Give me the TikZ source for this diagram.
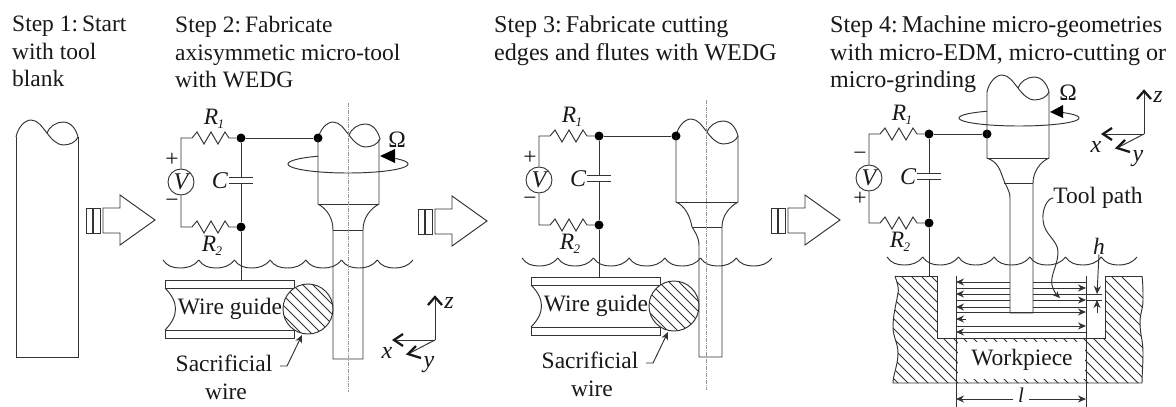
\documentclass[tikz,border=0pt]{standalone}
\usepackage{fontspec}
\setmainfont{Liberation Serif}
\usetikzlibrary{arrows.meta}
\definecolor{ink}{gray}{0.2}
\newcommand{\Rlab}[1]{{\itshape R\kern-0.5pt\raisebox{-4pt}{\fontsize{13}{13}\selectfont #1}}}
\tikzset{
  x=1pt,y=-1pt,
  every node/.style={text=black!90,font=\fontsize{23.5}{27.5}\selectfont,inner sep=0pt},
  ln/.style={draw=ink,line width=0.95pt},
  dot/.style={circle,fill=black,minimum size=9pt},
  axisline/.style={draw=gray!80,line width=0.7pt,dash pattern=on 4pt off 1pt on 1pt off 1pt},
  steptext/.style={anchor=north west,align=left},
  widetext/.style={anchor=north west,align=left,font=\fontsize{24.1}{27.5}\selectfont},
  hatchline/.style={draw=ink,line width=0.85pt},
  caret/.style={draw=black!90,line width=2.3pt,miter limit=10},
  dimtip/.style={-{Stealth[length=8pt,width=7pt]}},
  pics/head/.style={code={
    \draw[ln] (0,0) .. controls (2,-10) and (9,-17) .. (15,-17) .. controls (22,-17) and (26,-10) .. (31,-4)
      .. controls (36,3) and (42,8) .. (47,8) .. controls (54,8) and (60,5) .. (62,0);
    \draw[ln] (31,-4) .. controls (33,-10) and (40,-15) .. (47,-15) .. controls (55,-15) and (60,-8) .. (62,0);
  }},
  pics/wave/.style={code={
    \foreach \i in {0,...,6}{
      \draw[ln] (35.7*\i,0) .. controls (35.7*\i+4,6) and (35.7*\i+10,8) .. (35.7*\i+17,8)
        .. controls (35.7*\i+25,8) and (35.7*\i+31,6) .. (35.7*\i+35.7,0);
    }
  }},
  pics/bigarrow/.style={code={
    \draw[ln] (0,0) rectangle (6,25);
    \draw[ln] (7.5,0) rectangle (14,25);
    \draw[ln] (17,0) -- (34,0) -- (34,-13) -- (69,12) -- (34,37) -- (34,25) -- (17,25) -- cycle;
  }},
  pics/circuit/.style 2 args={code={
    \coordinate (-tl) at (0,0);
    \node[dot] (-j1) at (60,0) {};
    \node[dot] (-j2) at (60,89) {};
    \node[circle,draw=ink,line width=0.95pt,minimum size=26pt,font=\fontsize{24}{27.5}\selectfont\itshape] (-v) at (0,44) {V};
    \coordinate (-bl) at (0,89);
    \coordinate (-cu) at (60,39);
    \coordinate (-cd) at (60,45);
    \draw[ln] (-v) -- (-tl) -- (11,0) -- (16,-6) -- (23,6) -- (30,-6) -- (37,6) -- (44,-6) -- (48,0) -- (-j1);
    \draw[ln] (-v) -- (-bl) -- (11,89) -- (16,83) -- (23,95) -- (30,83) -- (37,95) -- (44,83) -- (48,89) -- (-j2);
    \draw[ln] (-j1) -- (-cu) (-cd) -- (-j2);
    \draw[ln] (48,39) -- (72,39) (48,45) -- (72,45);
    \node at (-9,22) {#1};
    \node at (-9,65) {#2};
    \node[font=\fontsize{24}{27.5}\selectfont\itshape] at (39,43) {C};
    \node at (33,-19) {\Rlab{1}};
    \node at (31,108) {\Rlab{2}};
  }},
  pics/guide/.style={code={
    \coordinate (-top) at (76,0);
    \draw[ln] (0,0) rectangle (129,8);
    \draw[ln] (0,50) rectangle (129,58);
    \draw[ln] (0,8) .. controls (14,22) and (14,36) .. (0,50);
    \node at (65,29) {Wire guide};
    \begin{scope}
      \clip (143,29) circle[radius=25];
      \fill[white] (143,29) circle[radius=25];
      \foreach \i in {-3,...,7}{\draw[hatchline] (143+\i*10-50,-10) -- ++(80,80);}
    \end{scope}
    \draw[ln] (143,29) circle[radius=25];
    \node[align=center] at (59,83) {Sacrificial};
    \node[align=center] at (61,112) {wire};
    \coordinate (-l1) at (115,86);
    \coordinate (-l2) at (122,86);
    \coordinate (-l3) at (137,55);
    \draw[ln,-{Stealth[length=8pt,width=7pt]}] (-l1) -- (-l2) -- (-l3);
  }},
  pics/axes/.style={code={
    \coordinate (-o) at (0,0);
    \coordinate (-z) at (0,-43);
    \coordinate (-x) at (-41,0);
    \coordinate (-y) at (-27,14);
    \draw[ln] (-o) -- (-z);
    \draw[ln] (-o) -- (-x);
    \draw[ln] (-o) -- (-y);
    \draw[caret] (-7,-35) -- (-z) -- (7,-35);
    \draw[caret] (-32,-6) -- (-x) -- (-32,6);
    \draw[caret] (-19,6) -- (-y) -- (-14,18);
    \node[font=\fontsize{24}{27.5}\selectfont\itshape] at (14,-37) {z};
    \node[font=\fontsize{24}{27.5}\selectfont\itshape] at (-48,13) {x};
    \node[font=\fontsize{24}{27.5}\selectfont\itshape] at (-6,25) {y};
  }}
}
\begin{document}
\begin{tikzpicture}
\useasboundingbox (0,0) rectangle (1176,407);
\fill[white] (0,0) rectangle (1176,407);
% captions
\node[steptext] (s1) at (12,16) {Step 1:\,Start\\with tool\\blank};
\node[steptext] (s2) at (175,16) {Step 2:\,Fabricate\\axisymmetic micro-tool\\with WEDG};
\node[widetext] (s3) at (494,16) {Step 3:\,Fabricate cutting\\edges and flutes with WEDG};
\node[widetext] (s4) at (830,16) {Step 4:\,Machine micro-geometries\\with micro-EDM, micro-cutting or\\micro-grinding};
% tool blank
\pic at (16,137) {head};
\draw[ln] (16,137) -- (16,357) -- (78,357) -- (78,137);
% process arrows
\pic at (86,208) {bigarrow};
\pic at (418,209) {bigarrow};
\pic at (771,208) {bigarrow};
% ---- Step 2
\pic (a) at (181,138) {circuit={+}{−}};
\pic at (163,260) {wave};
\pic (g) at (165,280) {guide};
\draw[ln] (a-j2) -- (a-j2 |- g-top);
\pic at (318,139) {head};
\node[dot] (t2) at (318,138) {};
\draw[ln] (a-j1) -- (t2);
\draw[ln] (318,139) -- (318,204) .. controls (327,209) and (333,218) .. (333,230) -- (333,359) -- (363,359) -- (363,230)
  .. controls (363,218) and (370,209) .. (379,204) -- (379,139);
\draw[ln] (318,204) -- (379,204) (333,230) -- (363,230);
\draw[axisline] (348,103) -- (348,392);
\draw[ln] plot[domain=240:-38,samples=70] ({348+60*cos(\x)},{164+9*sin(\x)});
\fill[black] (380,156) -- (395,149) -- (395,163) -- cycle;
\node at (397,140) {Ω};
\pic (ax2) at (435,340) {axes};
% ---- Step 3
\pic (b) at (539,136) {circuit={+}{−}};
\pic at (522,258) {wave};
\pic (h) at (531,277) {guide};
\draw[ln] (b-j2) -- (b-j2 |- h-top);
\pic at (676,136) {head};
\node[dot] (t3) at (676,136) {};
\draw[ln] (b-j1) -- (t3);
\draw[ln] (676,136) -- (676,202) .. controls (685,206) and (690,216) .. (692,227) .. controls (695,232) and (699,237) .. (699,246) -- (699,357) -- (722,357) -- (722,227)
  .. controls (722,216) and (729,207) .. (738,202) -- (738,136);
\draw[ln] (676,202) -- (738,202) (692,227) -- (722,227);
\draw[axisline] (706,100) -- (706,390);
% ---- Step 4 workpiece
\begin{scope}
  \clip (895,276) .. controls (898,285) and (899,290) .. (898,293) .. controls (896,305) and (893,315) .. (893,327)
    .. controls (893,337) and (898,343) .. (898,353) .. controls (898,365) and (893,375) .. (893,383)
    -- (1142,383) .. controls (1142,375) and (1143,365) .. (1143,353) .. controls (1143,340) and (1140,335) .. (1140,323)
    .. controls (1140,312) and (1143,310) .. (1143,300) .. controls (1143,290) and (1143,285) .. (1142,276) -- cycle;
  \foreach \i in {0,...,36}{\draw[hatchline] (795+\i*10-40,270) -- ++(125,125);}
\end{scope}
\draw[ln] (895,276) .. controls (898,285) and (899,290) .. (898,293) .. controls (896,305) and (893,315) .. (893,327)
    .. controls (893,337) and (898,343) .. (898,353) .. controls (898,365) and (893,375) .. (893,383) -- (1142,383)
    .. controls (1142,375) and (1143,365) .. (1143,353) .. controls (1143,340) and (1140,335) .. (1140,323)
    .. controls (1140,312) and (1143,310) .. (1143,300) .. controls (1143,290) and (1143,285) .. (1142,276);
\fill[white] (937,270) rectangle (1105,338);
\fill[white] (958,342) rectangle (1085,379);
\draw[ln] (895,276) -- (937,276) -- (937,338) -- (1105,338) -- (1105,276) -- (1142,276);
\node (wp) at (1022,360) {Workpiece};
\draw[ln] (956,276) -- (956,407) (1086,276) -- (1086,407);
% tool path passes
\foreach \yy in {282,294,307,332}{\draw[ln,dimtip] (1086,\yy) -- (956,\yy);}
\draw[ln,dimtip] (966,319) -- (956,319);
\foreach \yy in {288,300,312,326}{\draw[ln,dimtip] (956,\yy) -- (1086,\yy);}
% ---- Step 4 circuit and tool
\pic (c) at (869,134) {circuit={−}{+}};
\pic at (887,257) {wave};
\coordinate (wt) at (929,276);
\draw[ln] (c-j2) -- (wt);
\fill[white] (1010,276) rectangle (1033,312);
\pic at (987,92) {head};
\node[dot] (t4) at (987,134) {};
\draw[ln] (c-j1) -- (t4);
\draw[ln] (987,92) -- (987,158) .. controls (998,162) and (1000,170) .. (1003,178) .. controls (1005,185) and (1010,190) .. (1010,198) -- (1010,313) -- (1033,313) -- (1033,183)
  .. controls (1033,172) and (1040,162) .. (1049,158) -- (1049,92);
\draw[ln] (987,158) -- (1049,158) (1004,183) -- (1033,183);
\draw[ln] plot[domain=238:-43,samples=70] ({1019+60*cos(\x)},{118+8*sin(\x)});
\fill[black] (1050,112) -- (1063,105) -- (1063,118) -- cycle;
\node at (1068,93) {Ω};
\pic (ax4) at (1144,134) {axes};
% tool-path label
\node (tp) at (1098,198) {Tool path};
\coordinate (tpe) at (1060,298);
\draw[ln,-{Stealth[length=7pt,width=6pt]}] (tp.west) .. controls (1048,198) and (1042,208) .. (1043,220)
  .. controls (1044,235) and (1058,240) .. (1058,252) .. controls (1058,265) and (1050,275) .. (1052,285) .. controls (1053,290) and (1056,294) .. (tpe);
% h dimension
\node (hl) at (1099,246) {\itshape h};
\coordinate (ha) at (1097,294);
\coordinate (hb) at (1097,300);
\coordinate (hc) at (1097,313);
\draw[ln,dimtip] (hl.south) -- (ha);
\draw[ln,dimtip] (hc) -- (hb);
\draw[ln] (1086,294) -- (1102,294) (1086,300) -- (1102,300);
% l dimension
\node[fill=white,inner sep=1pt,font=\fontsize{21}{22}\selectfont\itshape] (ll) at (1021,395) {l};
\coordinate (la) at (956,399);
\coordinate (lb) at (1086,399);
\draw[ln,dimtip] ([xshift=-4pt]ll.west |- la) -- (la);
\draw[ln,dimtip] ([xshift=4pt]ll.east |- lb) -- (lb);
\end{tikzpicture}
\end{document}
